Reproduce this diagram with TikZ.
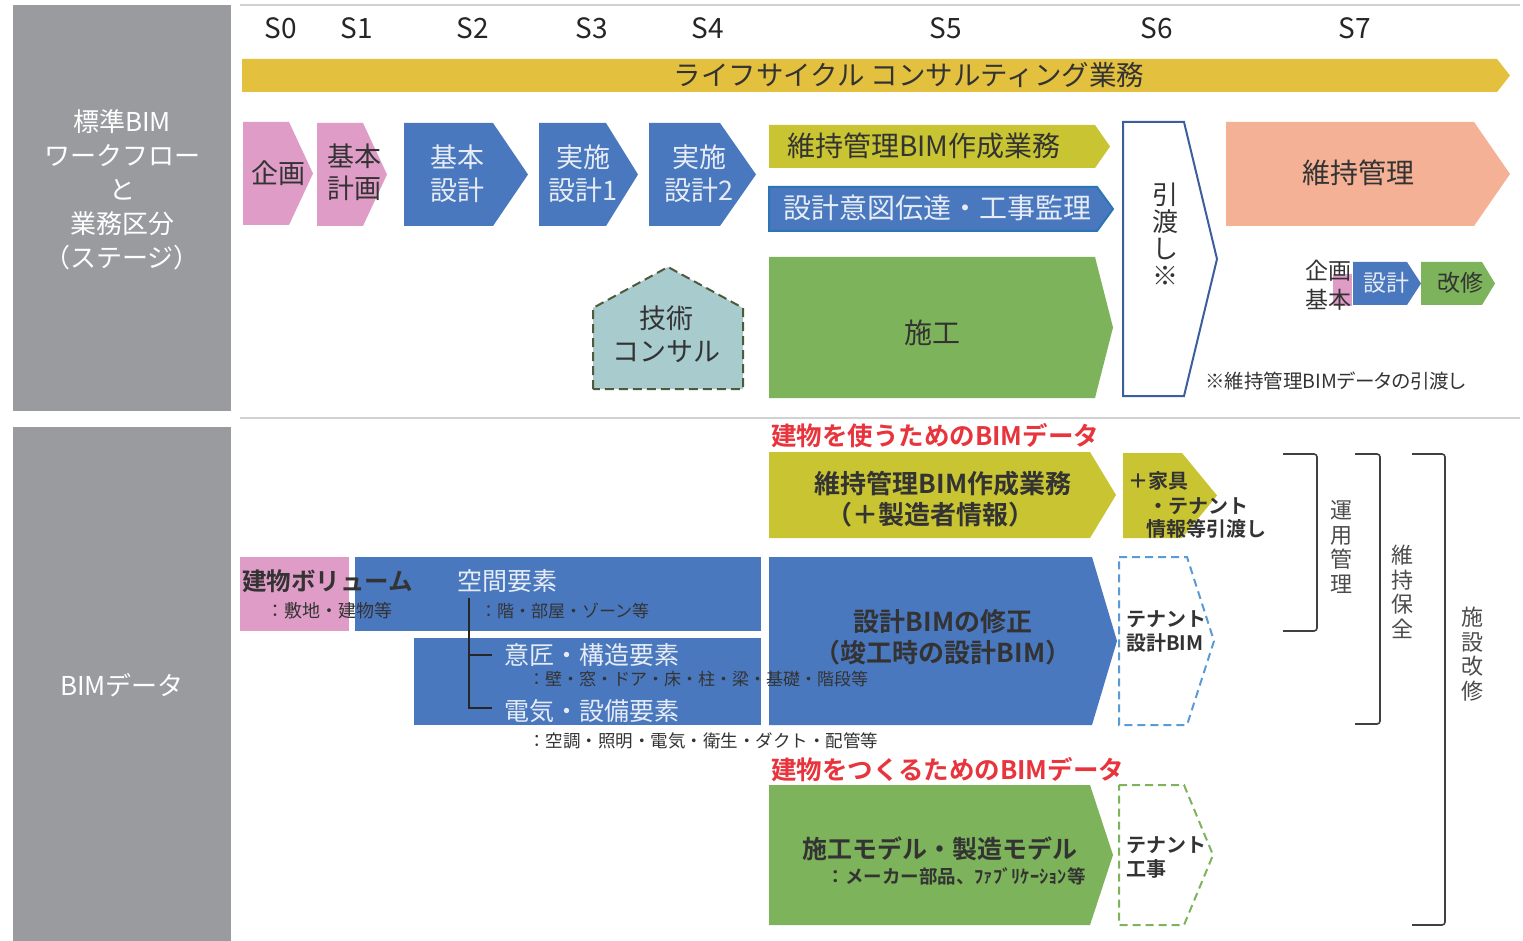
\documentclass[tikz,border=0pt]{standalone}
\usepackage{fontspec}
\setmainfont{Noto Sans CJK JP}[BoldFont = * Bold]
\newfontfamily\jpp{Noto Sans CJK JP}[BoldFont = * Bold, RawFeature=+palt]
\definecolor{panel}{HTML}{9A9B9F}
\definecolor{lcy}{HTML}{E3C13F}
\definecolor{pinkc}{HTML}{DE9CC6}
\definecolor{bluec}{HTML}{4A78BE}
\definecolor{ygc}{HTML}{C8C432}
\definecolor{greenc}{HTML}{7DB35A}
\definecolor{salmonc}{HTML}{F4B196}
\definecolor{tealc}{HTML}{A8CBCE}
\definecolor{redc}{HTML}{E8343C}
\definecolor{darkt}{HTML}{333333}
\definecolor{lightt}{HTML}{E6ECF5}
\definecolor{sepc}{HTML}{D2D2D2}
\definecolor{hbord}{HTML}{3D5E9C}
\definecolor{dbord}{HTML}{2E75B6}
\definecolor{dashblue}{HTML}{5B9BD5}
\definecolor{oliveb}{HTML}{4F5A3C}
\newcommand\fz[2]{\fontsize{#1pt}{#2pt}\selectfont}
\newcommand\chev[7]{%
  \path[#1] (#2,#3) -- (#4,#3) -- (#5,{(#3+#6)/2}) -- (#4,#6) -- (#2,#6) -- cycle;
  \coordinate (#7) at ({(#2+#4)/2},{(#3+#6)/2});
}
\tikzset{
  txt/.style={inner sep=0pt, outer sep=0pt, text=darkt},
  wtxt/.style={inner sep=0pt, outer sep=0pt, text=lightt},
  ptxt/.style={inner sep=0pt, outer sep=0pt, text=white},
  stg/.style={txt, font=\fz{28}{30}, text=black!85},
  brk/.style={draw=black!75, line width=1.6pt, rounded corners=3pt},
  vtxt/.style={txt, align=center, text=black!70, font=\fz{22}{24.5}},
  longdash/.style={dash pattern=on 8pt off 5pt},
}
\begin{document}
\begin{tikzpicture}[x=1pt,y=-1pt]
\useasboundingbox (0,0) rectangle (1523,941);
\fill[white] (0,0) rectangle (1523,941);
% panels
\fill[panel] (13,5) rectangle (231,411);
\fill[panel] (13,427) rectangle (231,941);
\node[ptxt, align=center, font=\fz{26}{34}] (ptop) at (122,190)
  {標準BIM\\ワークフロー\\と\\業務区分\\（ステージ）};
\node[ptxt, font=\fz{26}{30}] (pbot) at (122,685) {BIMデータ};
% separators
\draw[sepc, line width=2pt] (240,5) coordinate (s1a) -- (1520,5) coordinate (s1b);
\draw[sepc, line width=2pt] (240,418) coordinate (s2a) -- (1520,418) coordinate (s2b);
% stage labels
\node[stg] (S0) at (281,28) {S0};
\node[stg] (S1) at (357,28) {S1};
\node[stg] (S2) at (473,28) {S2};
\node[stg] (S3) at (592,28) {S3};
\node[stg] (S4) at (708,28) {S4};
\node[stg] (S5) at (946,28) {S5};
\node[stg] (S6) at (1157,28) {S6};
\node[stg] (S7) at (1355,28) {S7};
% lifecycle bar
\chev{fill=lcy}{242}{59}{1497}{1510}{92}{lc}
\node[txt, font=\fz{27.5}{30}] (lct) at (909,75) {ライフサイクル コンサルティング業務};
% top stage chevrons
\chev{fill=pinkc}{243}{122}{289}{313}{225}{c0}
\node[txt, font=\fz{27}{30}] (c0t) at (278,173) {企画};
\chev{fill=pinkc}{317}{123}{363}{387}{226}{c1}
\node[txt, align=center, font=\fz{27}{32}] (c1t) at (354,172) {基本\\計画};
\chev{fill=bluec}{404}{123}{493}{528}{226}{c2}
\node[wtxt, align=center, font=\fz{27}{33}] (c2t) at (457,174) {基本\\設計};
\chev{fill=bluec}{539}{123}{606}{638}{226}{c3}
\node[wtxt, align=center, font=\fz{27}{33}] (c3t) at (583,174) {実施\\設計1};
\chev{fill=bluec}{649}{123}{720}{756}{226}{c4}
\node[wtxt, align=center, font=\fz{27}{33}] (c4t) at (699,174) {実施\\設計2};
% S5 bars
\chev{fill=ygc}{769}{125}{1095}{1110}{168}{m1}
\node[txt, anchor=west, font=\fz{28}{30}] (m1t) at (787,146) {維持管理BIM作成業務};
\chev{fill=bluec, draw=dbord, line width=2pt}{769}{187}{1097}{1113}{231}{m2}
\node[wtxt, anchor=west, font=\fz{28}{30}] (m2t) at (783,208) {設計意図伝達・工事監理};
\chev{fill=greenc}{769}{257}{1095}{1113}{398}{m3}
\node[txt, font=\fz{28}{30}] (m3t) at (932,333) {施工};
% technical consulting house
\path[fill=tealc, draw=oliveb, line width=2pt, dash pattern=on 9pt off 5pt]
  (593,389) -- (593,308) -- (668,267) -- (743,308) -- (743,389) -- cycle;
\node[txt, align=center, font=\fz{27}{33}] (tc) at (666,334) {技術\\コンサル};
% handover
\chev{fill=white, draw=hbord, line width=2pt}{1123}{122}{1184}{1217}{396}{ho}
\node[txt, align=center, font=\fz{26}{27}] (hot) at (1165,234) {引\\渡\\し\\※};
% maintenance
\chev{fill=salmonc}{1226}{122}{1474}{1510}{226}{mm}
\node[txt, font=\fz{28}{30}] (mmt) at (1358,173) {維持管理};
% small renovation flow
\fill[pinkc] (1333,274) rectangle (1352,306);
\node[txt, align=center, font=\fz{23}{29}] (kk) at (1328,285) {企画\\基本};
\chev{fill=bluec}{1353}{262}{1407}{1421}{305}{sd}
\node[wtxt, font=\fz{23}{25}] (sdt) at (1386,283) {設計};
\chev{fill=greenc}{1421}{262}{1482}{1495}{305}{sk}
\node[txt, font=\fz{23}{25}] (skt) at (1460,283) {改修};
\node[txt, anchor=west, font=\jpp\fz{19.5}{21}] (note) at (1205,381) {※維持管理BIMデータの引渡し};
% ===== bottom =====
\node[txt, text=redc, anchor=west, font=\bfseries\fz{25.5}{27}] (h1) at (771,436) {建物を使うためのBIMデータ};
\chev{fill=ygc}{769}{452}{1090}{1116}{538}{b1}
\node[txt, font=\bfseries\fz{26}{28}] (b1a) at (943,484) {維持管理BIM作成業務};
\node[txt, font=\bfseries\fz{26}{28}] (b1b) at (930,515) {（＋製造者情報）};
\chev{fill=ygc}{1123}{453}{1182}{1217}{538}{b2}
\node[txt, anchor=west, font=\bfseries\fz{20}{22}] (b2a) at (1128,481) {＋家具};
\node[txt, anchor=west, font=\bfseries\fz{20}{22}] (b2b) at (1148,506) {・テナント};
\node[txt, anchor=west, font=\bfseries\fz{20}{22}] (b2c) at (1146,529) {情報等引渡し};
% design data blocks
\fill[pinkc] (240,557) rectangle (349,631);
\fill[bluec] (355,557) rectangle (761,631);
\fill[bluec] (414,638) rectangle (761,725);
\chev{fill=bluec}{769}{557}{1092}{1117}{725}{b3}
\node[txt, anchor=west, font=\bfseries\fz{24.5}{27}] (vol) at (242,581) {建物ボリューム};
\node[txt, anchor=west, font=\fz{18}{21}] (vols) at (266,611) {：敷地・建物等};
\node[wtxt, anchor=west, font=\fz{25}{27}] (sp) at (457,581) {空間要素};
\node[txt, anchor=west, font=\fz{17}{21}] (sps) at (480,611) {：階・部屋・ゾーン等};
\node[wtxt, anchor=west, font=\fz{25}{27}] (ar) at (504,655) {意匠・構造要素};
\node[txt, anchor=west, font=\fz{17}{21}] (ars) at (528,679) {：壁・窓・ドア・床・柱・梁・基礎・階段等};
\node[wtxt, anchor=west, font=\fz{25}{27}] (el) at (504,711) {電気・設備要素};
\node[txt, anchor=west, font=\fz{17.5}{21}] (els) at (528,741) {：空調・照明・電気・衛生・ダクト・配管等};
\coordinate (tr0) at (469,598);
\coordinate (tr1) at (469,655);
\coordinate (tr2) at (469,708);
\coordinate (tr1e) at (492,655);
\coordinate (tr2e) at (492,708);
\draw[black!85, line width=1.5pt] (tr0) -- (tr2) -- (tr2e);
\draw[black!85, line width=1.5pt] (tr1) -- (tr1e);
\node[txt, font=\bfseries\fz{26}{28}] (b3a) at (943,622) {設計BIMの修正};
\node[txt, font=\bfseries\fz{26}{28}] (b3b) at (943,653) {（竣工時の設計BIM）};
\chev{fill=white, draw=dashblue, line width=2pt, longdash}{1119}{557}{1187}{1214}{725}{b4}
\node[txt, anchor=west, align=left, font=\bfseries\fz{20}{24}] (b4t) at (1126,631) {テナント\\設計BIM};
% construction
\node[txt, text=redc, anchor=west, font=\bfseries\fz{25.5}{27}] (h2) at (771,770) {建物をつくるためのBIMデータ};
\chev{fill=greenc}{769}{785}{1090}{1113}{925}{b5}
\node[txt, font=\bfseries\fz{25}{27}] (b5a) at (940,849) {施工モデル・製造モデル};
\node[txt, font=\bfseries\fz{18.5}{20}] (b5b) at (956,876) {：メーカー部品、ﾌｧﾌﾞﾘｹｰｼｮﾝ等};
\chev{fill=white, draw=greenc, line width=2pt, longdash}{1119}{785}{1184}{1213}{925}{b6}
\node[txt, anchor=west, align=left, font=\bfseries\fz{20}{24}] (b6t) at (1126,858) {テナント\\工事};
% brackets
\draw[brk] (1283,454) -- (1317,454) -- (1317,631) -- (1283,631);
\draw[brk] (1355,454) -- (1380,454) -- (1380,724) -- (1355,724);
\draw[brk] (1412,454) -- (1445,454) -- (1445,925) -- (1412,925);
\node[vtxt] (v1) at (1341,547) {運\\用\\管\\理};
\node[vtxt] (v2) at (1402,592) {維\\持\\保\\全};
\node[vtxt] (v3) at (1472,654) {施\\設\\改\\修};
\end{tikzpicture}
\end{document}
